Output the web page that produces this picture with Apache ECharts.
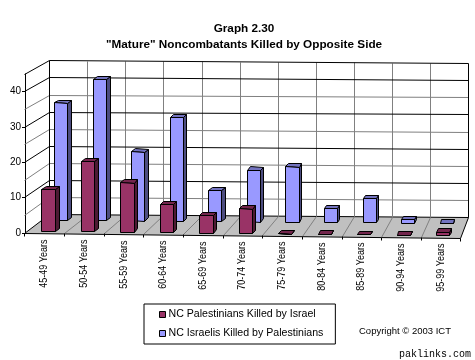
<!DOCTYPE html>
<html>
<head>
<meta charset="utf-8">
<style>
html, body { margin: 0; padding: 0; background: #fff; }
#chart { width: 475px; height: 360px; }
</style>
<script src="https://cdn.jsdelivr.net/npm/echarts@6/dist/echarts.min.js"></script>
</head>
<body>
<div id="chart"></div>
<script>
var ageGroups = ['45-49 Years', '50-54 Years', '55-59 Years', '60-64 Years', '65-69 Years', '70-74 Years',
    '75-79 Years', '80-84 Years', '85-89 Years', '90-94 Years', '95-99 Years'];
var palestinians = [12, 20, 14, 8, 5, 7, 0, 0, 0, 0, 1];
var israelis = [34, 41, 20, 30, 9, 15, 16, 4, 7, 1, 0];
var gridValues = [5, 10, 15, 20, 25, 30, 35, 40, 45];
var labelValues = [0, 10, 20, 30, 40];

var FONT = '"Liberation Sans", Arial, sans-serif';

// front plane is the ordinary grid, everything else is pushed back from it (z 0 front, 1 back wall)
function project(api, u, v, z) {
    var band = api.size([1, 0])[0];
    var base = api.coord([0, 0]);
    var pt = api.coord([0, v]);
    var x = pt[0] - band / 2 + u * band;
    var k = u / ageGroups.length;
    x += z * (24.7 - 17.1 * k);
    var y = base[1] + (pt[1] - base[1]) * (1 - 0.032 * z) - 18.2 * z + k * (5 - 2.2 * z);
    return [Math.floor(x) + 0.5, Math.floor(y) + 0.5];
}

function line(a, b, color) {
    return {
        type: 'line',
        shape: { x1: a[0], y1: a[1], x2: b[0], y2: b[1] },
        style: { stroke: color, lineWidth: 1 }
    };
}

function poly(points, fill) {
    return {
        type: 'polygon',
        shape: { points: points },
        style: { fill: fill, stroke: '#000', lineWidth: 1 }
    };
}

function renderWalls(params, api) {
    var n = ageGroups.length;
    var children = [];
    children.push(poly([project(api, 0, 0, 0), project(api, n, 0, 0), project(api, n, 0, 1), project(api, 0, 0, 1)], '#c0c0c0'));
    for (var u = 1; u < n; u++) {
        children.push(line(project(api, u, 45, 1), project(api, u, 0, 1), '#808080'));
        children.push(line(project(api, u, 0, 1), project(api, u, 0, 0), '#808080'));
    }
    for (var i = 0; i < gridValues.length; i++) {
        var v = gridValues[i];
        var color = v % 10 === 0 || v === 45 ? '#000' : '#808080';
        children.push(line(project(api, 0, v, 0), project(api, 0, v, 1), color));
        children.push(line(project(api, 0, v, 1), project(api, n, v, 1), color));
    }
    children.push(line(project(api, 0, 0, 1), project(api, 0, 45, 1), '#000'));
    children.push(line(project(api, n, 0, 1), project(api, n, 45, 1), '#000'));
    // ticks under the front edge of the floor
    for (var t = 0; t <= n; t++) {
        var p = project(api, t, 0, 0);
        children.push(line(p, [p[0], p[1] + 3], '#000'));
    }
    return { type: 'group', children: children };
}

function barRenderer(left, right, z0, z1, front, top, side) {
    return function (params, api) {
        var u0 = api.value(0) + left;
        var u1 = api.value(0) + right;
        var v = api.value(1);
        var a = project(api, u0, 0, z0), b = project(api, u1, 0, z0);
        var c = project(api, u1, v, z0), d = project(api, u0, v, z0);
        var e = project(api, u1, 0, z1), f = project(api, u1, v, z1), g = project(api, u0, v, z1);
        return {
            type: 'group',
            children: [
                poly([b, e, f, c], side),
                poly([d, c, f, g], top),
                poly([a, b, c, d], front)
            ]
        };
    };
}

function renderAgeLabel(params, api) {
    var p = project(api, api.value(0) + 0.5, 0, 0);
    return {
        type: 'text',
        x: p[0],
        y: p[1] + 6,
        rotation: Math.PI / 2,
        scaleX: 0.9,
        style: {
            text: ageGroups[api.value(0)],
            font: '10px ' + FONT,
            fill: '#000',
            align: 'right',
            verticalAlign: 'middle'
        }
    };
}

function toPairs(values) {
    return values.map(function (v, i) { return [i, v]; });
}

var chart = echarts.init(document.getElementById('chart'), null, { renderer: 'canvas' });
chart.setOption({
    animation: false,
    backgroundColor: '#fff',
    title: {
        text: 'Graph 2.30\n"Mature" Noncombatants Killed by Opposite Side',
        left: 239,
        top: 16,
        textAlign: 'center',
        textStyle: { fontFamily: FONT, fontSize: 11.75, fontWeight: 'bold', color: '#000', lineHeight: 16 }
    },
    legend: {
        orient: 'vertical',
        left: 144,
        top: 304,
        padding: [5, 12, 5, 15],
        itemWidth: 6,
        itemHeight: 6,
        itemGap: 8,
        icon: 'rect',
        borderColor: '#000',
        borderWidth: 1,
        selectedMode: false,
        data: ['NC Palestinians Killed by Israel', 'NC Israelis Killed by Palestinians'],
        itemStyle: { borderColor: '#000', borderWidth: 1 },
        textStyle: { fontFamily: FONT, fontSize: 10.6, color: '#000', padding: [0, 0, 0, -2] }
    },
    grid: { left: 25, top: 74, width: 436, height: 159, containLabel: false },
    xAxis: { type: 'category', data: ageGroups, show: false },
    yAxis: {
        type: 'value',
        min: 0,
        max: 45,
        axisLine: { show: true, lineStyle: { color: '#000' } },
        axisTick: { show: true, length: 3, customValues: labelValues, lineStyle: { color: '#000' } },
        axisLabel: { customValues: labelValues, margin: 4, color: '#000', fontFamily: FONT, fontSize: 10 },
        splitLine: { show: false }
    },
    graphic: [
        { type: 'text', left: 359, top: 326, style: { text: 'Copyright © 2003 ICT', font: '9.5px ' + FONT, fill: '#000' } },
        { type: 'text', left: 399, top: 349, style: { text: 'paklinks.com', font: '10px "Liberation Mono", monospace', fill: '#000' } }
    ],
    series: [
        { type: 'custom', name: 'walls', z: 1, silent: true, data: [[0, 0]], renderItem: renderWalls },
        {
            type: 'custom',
            name: 'NC Palestinians Killed by Israel',
            z: 3,
            silent: true,
            itemStyle: { color: '#993366' },
            data: toPairs(palestinians),
            renderItem: barRenderer(0.36, 0.7, 0.1, 0.28, '#993366', '#73264d', '#4d1a33')
        },
        {
            type: 'custom',
            name: 'NC Israelis Killed by Palestinians',
            z: 2,
            silent: true,
            itemStyle: { color: '#9999ff' },
            data: toPairs(israelis),
            renderItem: barRenderer(0.32, 0.66, 0.7, 0.88, '#9999ff', '#7373bf', '#4d4d80')
        },
        { type: 'custom', name: 'age labels', z: 3, silent: true, data: toPairs(ageGroups.map(function () { return 0; })), renderItem: renderAgeLabel }
    ]
});
</script>
</body>
</html>
